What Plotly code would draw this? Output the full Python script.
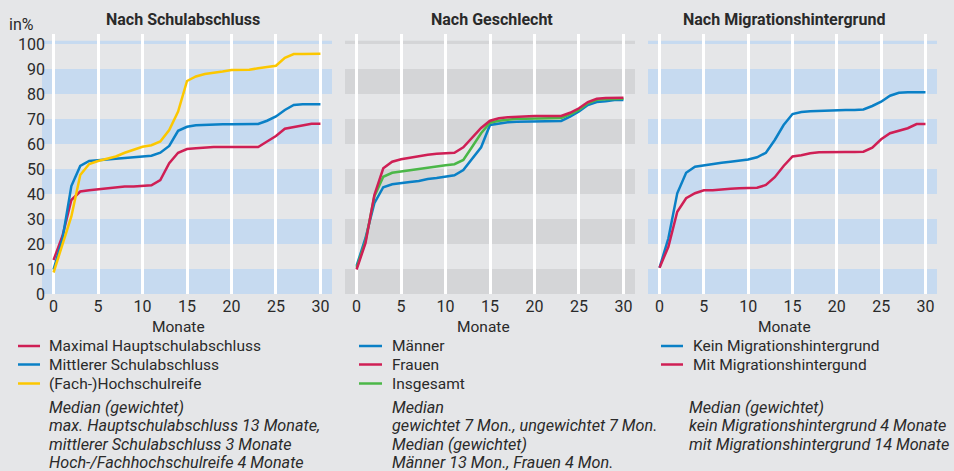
import plotly.graph_objects as go

# ---------------- data ----------------
months = list(range(31))

# Panel 1: Nach Schulabschluss
haupt = [13.6, 23.2, 37.6, 41.0, 41.5, 41.9, 42.3, 42.9, 43.0, 43.0, 43.1, 43.5, 45.6, 52.3, 56.5,
         58.0, 58.3, 58.7, 58.8, 58.8, 58.8, 58.8, 58.8, 58.8, 61.0, 63.2, 66.1, 66.8, 67.3, 68.1, 68.1]
mittlerer = [9.8, 22.0, 43.2, 51.2, 53.2, 53.5, 53.9, 54.1, 54.7, 55.0, 55.2, 55.3, 56.5, 59.2, 65.3,
             66.9, 67.5, 67.7, 67.9, 67.9, 67.9, 67.9, 67.9, 68.0, 69.3, 71.0, 73.6, 75.6, 75.9, 75.9, 75.9]
hochschul = [8.6, 19.6, 31.0, 47.6, 52.0, 53.2, 54.0, 55.0, 56.5, 57.6, 58.9, 59.5, 61.0, 65.6, 73.0,
             85.2, 87.0, 88.0, 88.4, 89.0, 89.6, 89.6, 89.7, 90.3, 90.8, 91.3, 94.5, 96.0, 96.0, 96.1, 96.1]

# Panel 2: Nach Geschlecht
maenner = [11.2, 22.3, 36.3, 42.7, 43.9, 44.5, 44.8, 45.2, 46.0, 46.4, 46.9, 47.5, 49.6, 54.0, 58.7,
           67.6, 68.3, 68.7, 68.9, 68.9, 68.9, 68.9, 68.9, 69.2, 70.9, 73.0, 75.6, 76.8, 77.1, 77.6, 77.6]
frauen = [9.8, 20.3, 39.6, 50.3, 52.9, 53.9, 54.5, 55.2, 55.7, 56.1, 56.4, 56.5, 58.7, 62.7, 66.4,
          69.3, 70.3, 70.7, 70.9, 71.2, 71.2, 71.2, 71.2, 71.2, 72.5, 74.3, 76.8, 78.1, 78.4, 78.5, 78.5]
insgesamt = [10.5, 21.0, 39.0, 46.9, 48.5, 49.1, 49.5, 50.0, 50.5, 51.1, 51.5, 51.9, 53.6, 58.9, 64.3,
             68.5, 69.3, 69.7, 70.1, 70.1, 70.1, 70.1, 70.1, 70.4, 71.9, 73.6, 76.3, 77.7, 77.9, 78.1, 78.1]

# Panel 3: Nach Migrationshintergrund
kein_mig = [10.5, 22.3, 40.3, 48.5, 50.9, 51.5, 52.0, 52.5, 52.9, 53.3, 53.8, 54.7, 56.5, 61.6, 67.6,
            72.0, 72.8, 73.1, 73.3, 73.5, 73.6, 73.6, 73.6, 73.8, 75.2, 76.9, 79.3, 80.5, 80.7, 80.7, 80.7]
mit_mig = [10.5, 18.9, 32.9, 38.3, 40.3, 41.5, 41.5, 41.9, 42.1, 42.3, 42.4, 42.5, 43.6, 46.7, 51.2,
           55.0, 55.5, 56.3, 56.7, 56.8, 56.8, 56.8, 56.8, 56.9, 58.5, 61.9, 64.3, 65.2, 66.3, 68.0, 68.0]

panel_titles = ["Nach Schulabschluss", "Nach Geschlecht", "Nach Migrationshintergrund"]
x_ticks = [0, 5, 10, 15, 20, 25, 30]
y_ticks = [0, 10, 20, 30, 40, 50, 60, 70, 80, 90, 100]

legend1 = ["Maximal Hauptschulabschluss", "Mittlerer Schulabschluss", "(Fach-)Hochschulreife"]
legend2 = ["Männer", "Frauen", "Insgesamt"]
legend3 = ["Kein Migrationshintergrund", "Mit Migrationshintergund"]

notes1 = ["Median (gewichtet)", "max. Hauptschulabschluss 13 Monate,",
          "mittlerer Schulabschluss 3 Monate", "Hoch-/Fachhochschulreife 4 Monate"]
notes2 = ["Median", "gewichtet 7 Mon., ungewichtet 7 Mon.",
          "Median (gewichtet)", "Männer 13 Mon., Frauen 4 Mon."]
notes3 = ["Median (gewichtet)", "kein Migrationshintergrund 4 Monate",
          "mit Migrationshintergrund 14 Monate"]

# ---------------- style ----------------
RED = "#cf1f55"
BLUE = "#0a80c6"
YEL = "#fcc700"
GRN = "#4bb748"
BG = "#e5e6e8"
BAND_BLUE = "#c6daf0"
BAND_GRAY = "#d4d5d7"
TXT = "#2a2a2a"
FONT = "Roboto"

W, H = 954, 471


def px(x):
    return x / W


def py(y):
    return 1 - y / H


panel_px = [(42, 332), (345, 635), (648, 937)]
ydom = [py(294), py(34)]

fig = go.Figure()

series = [
    [(haupt, RED, legend1[0]), (mittlerer, BLUE, legend1[1]), (hochschul, YEL, legend1[2])],
    [(maenner, BLUE, legend2[0]), (insgesamt, GRN, legend2[2]), (frauen, RED, legend2[1])],
    [(kein_mig, BLUE, legend3[0]), (mit_mig, RED, legend3[1])],
]

shapes = []
annotations = []

for i, (x0p, x1p) in enumerate(panel_px):
    n = "" if i == 0 else str(i + 1)
    xa, ya = "x" + n, "y" + n
    for vals, col, name in series[i]:
        fig.add_trace(go.Scatter(x=months, y=vals, mode="lines", name=name,
                                 line=dict(color=col, width=2.5), xaxis=xa, yaxis=ya,
                                 showlegend=False))
    fig.update_layout(**{
        ("xaxis" + n): dict(domain=[px(x0p), px(x1p)], range=[-1.3, 31.3], anchor=ya,
                           tickvals=x_ticks, showgrid=True, gridcolor="white", gridwidth=2.5,
                           zeroline=False, showline=False, ticks="", automargin=False,
                           ticklabelstandoff=1,
                           tickfont=dict(family=FONT, size=16, color=TXT), fixedrange=True),
        ("yaxis" + n): dict(domain=ydom, range=[0, 104], anchor=xa, tickvals=y_ticks,
                           showgrid=False, zeroline=False, showline=False, ticks="",
                           showticklabels=(i == 0), automargin=False, ticklabelstandoff=-4,
                           tickfont=dict(family=FONT, size=16, color=TXT), fixedrange=True),
    })
    band = BAND_GRAY if i == 1 else BAND_BLUE
    for lo in [0, 20, 40, 60, 80]:
        shapes.append(dict(type="rect", xref=xa + " domain", yref=ya, x0=0, x1=1,
                           y0=lo, y1=lo + 10, fillcolor=band, line=dict(width=0), layer="below"))
    shapes.append(dict(type="rect", xref=xa + " domain", yref=ya, x0=0, x1=1,
                       y0=100, y1=101.3, fillcolor=band, line=dict(width=0), layer="below"))

# titles
for title, cx in zip(panel_titles, [182.5, 492, 783.5]):
    annotations.append(dict(text="<b>" + title + "</b>", x=px(cx), y=py(20), xref="paper", yref="paper",
                            xanchor="center", yanchor="middle", showarrow=False,
                            font=dict(family=FONT, size=16, color=TXT)))
# Monate
for cx in [178, 484, 784]:
    annotations.append(dict(text="Monate", x=px(cx), y=py(326.5), xref="paper", yref="paper",
                            xanchor="center", yanchor="middle", showarrow=False, borderpad=0,
                            font=dict(family=FONT, size=15.5, color=TXT)))
# in%
annotations.append(dict(text="in%", x=px(36), y=py(25), xref="paper", yref="paper",
                        xanchor="right", yanchor="middle", showarrow=False,
                        font=dict(family=FONT, size=16, color=TXT)))

# legends
leg_rows = [346, 364.5, 383.5]
legends = [
    (legend1, [RED, BLUE, YEL], 18, 40, 46.5),
    (legend2, [BLUE, RED, GRN], 359, 382, 389.5),
    (legend3, [BLUE, RED], 661, 683, 690.5),
]
for labels, cols, lx0, lx1, tx in legends:
    for lab, col, yy in zip(labels, cols, leg_rows):
        shapes.append(dict(type="line", xref="paper", yref="paper", x0=px(lx0), x1=px(lx1),
                           y0=py(yy), y1=py(yy), line=dict(color=col, width=2.5)))
        annotations.append(dict(text=lab, x=px(tx), y=py(yy), xref="paper", yref="paper",
                                xanchor="left", yanchor="middle", showarrow=False,
                                font=dict(family=FONT, size=15.5, color=TXT)))

note_rows = [407, 425.5, 444, 462.5]
for notes, tx in [(notes1, 46.5), (notes2, 389.5), (notes3, 686.5)]:
    for line, yy in zip(notes, note_rows):
        annotations.append(dict(text="<i>" + line + "</i>", x=px(tx), y=py(yy), xref="paper",
                                yref="paper", xanchor="left", yanchor="middle", showarrow=False,
                                font=dict(family=FONT, size=16.2, color=TXT)))

fig.update_layout(width=W, height=H, margin=dict(l=0, r=0, t=0, b=0, autoexpand=False),
                  paper_bgcolor=BG, plot_bgcolor=BG, showlegend=False,
                  shapes=shapes, annotations=annotations)

fig.write_html("out.html", config={"displayModeBar": False},
               post_script="document.body.style.margin='0';document.body.style.background='" + BG + "';")
